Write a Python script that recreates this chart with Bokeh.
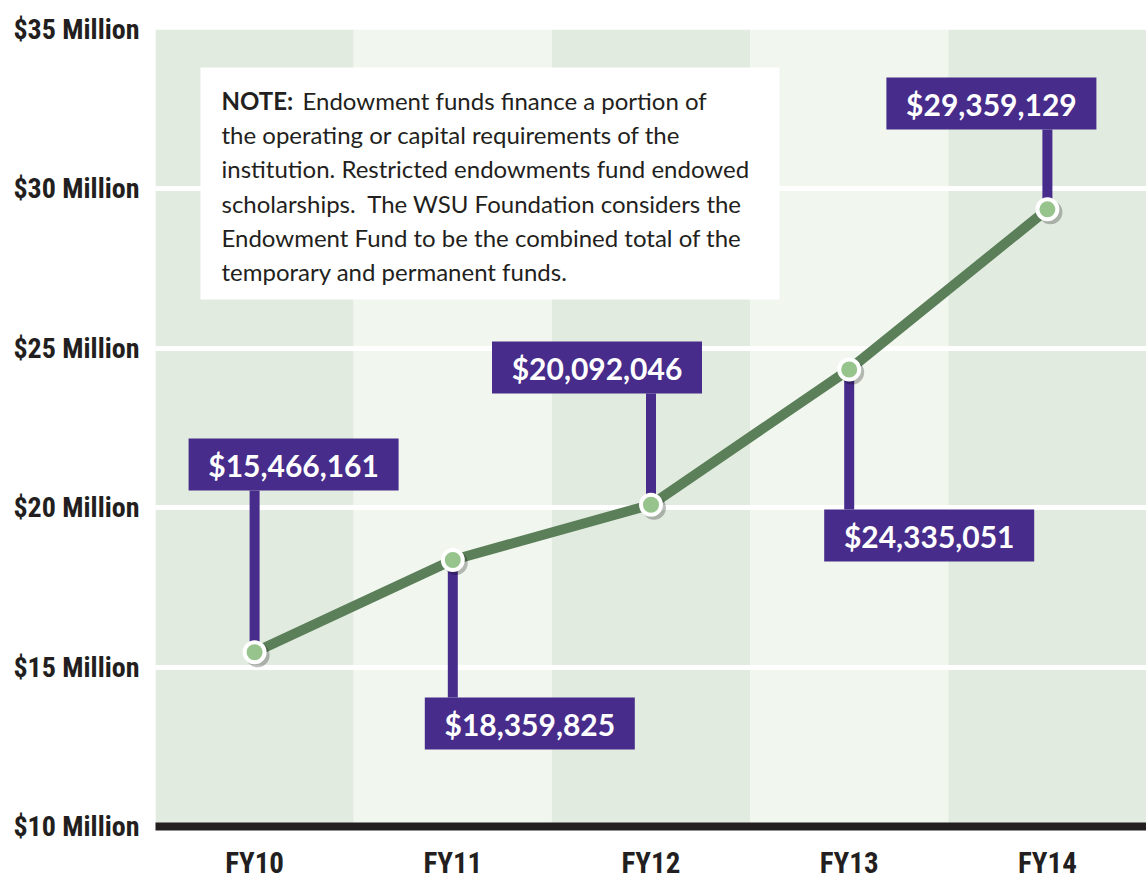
from bokeh.plotting import figure
from bokeh.models import FixedTicker, Range1d
from bokeh.core.properties import value
from bokeh.embed import file_html
from bokeh.resources import INLINE

# ---------------- data ----------------
years = ["FY10", "FY11", "FY12", "FY13", "FY14"]
endowment = [15466161, 18359825, 20092046, 24335051, 29359129]
y_ticks = [10, 15, 20, 25, 30, 35]
y_tick_labels = ["$10 Million", "$15 Million", "$20 Million",
                 "$25 Million", "$30 Million", "$35 Million"]
note_lines = [
    "NOTE:",
    "Endowment funds finance a portion of",
    "the operating or capital requirements of the",
    "institution. Restricted endowments fund endowed",
    "scholarships.\u00a0 The WSU Foundation considers the",
    "Endowment Fund to be the combined total of the",
    "temporary and permanent funds.",
]

# ---------------- layout / style ----------------
FRAME_W, FRAME_H = 991, 797
Y0, Y1 = 10, 35
PX_X = FRAME_W / len(years)
PX_Y = FRAME_H / (Y1 - Y0)
LEFT_PX, BOTTOM_PX = 155, 826   # pixel of frame left / bottom


def xd(px):
    return (px - LEFT_PX) / PX_X


def yd(py):
    return Y0 + (BOTTOM_PX - py) / PX_Y


band_colors = ["#e1ebdf", "#f1f6ef", "#e1ebdf", "#f1f6ef", "#e1ebdf"]
line_color = "#5b7f59"
purple = "#472c8b"
dot_fill = "#96c48c"
ink = "#231f20"
axis_font = "'Liberation Sans Narrow', 'Roboto Condensed', 'Arial Narrow', sans-serif"

box_above = [True, False, True, False, True]
box_dx_px = [-66, -28, -159, -25, -161]   # box left relative to point
box_top_px = [438, 697, 341, 509, 77]
BOX_W, BOX_H = 210, 52

p = figure(frame_width=FRAME_W, frame_height=FRAME_H,
           x_range=Range1d(0, len(years)), y_range=Range1d(Y0, Y1),
           output_backend="svg", toolbar_location=None,
           min_border_left=155, min_border_right=0,
           min_border_top=29, min_border_bottom=53,
           background_fill_color="white", border_fill_color="white",
           outline_line_color=None)

xs = [i + 0.5 for i in range(len(years))]
vals = [v / 1e6 for v in endowment]

# background bands
p.vbar(x=xs, width=1, bottom=Y0, top=Y1, fill_color=band_colors,
       line_color=None, level="image")

# grid
p.xgrid.visible = False
p.ygrid.ticker = FixedTicker(ticks=[15, 20, 25, 30])
p.ygrid.grid_line_color = "white"
p.ygrid.grid_line_width = 5

# y axis
p.yaxis.ticker = FixedTicker(ticks=y_ticks)
p.yaxis.major_label_overrides = dict(zip(y_ticks, y_tick_labels))
p.yaxis.axis_line_color = None
p.yaxis.major_tick_line_color = None
p.yaxis.minor_tick_line_color = None
p.yaxis.major_tick_out = 0
p.yaxis.major_tick_in = 0
p.yaxis.major_label_standoff = 16
p.yaxis.major_label_text_font = axis_font
p.yaxis.major_label_text_font_style = "bold"
p.yaxis.major_label_text_font_size = "28px"
p.yaxis.major_label_text_color = ink

# x axis
p.xaxis.ticker = FixedTicker(ticks=xs)
p.xaxis.major_label_overrides = dict(zip(xs, years))
p.xaxis.axis_line_color = ink
p.xaxis.axis_line_width = 8
p.xaxis.major_tick_line_color = None
p.xaxis.minor_tick_line_color = None
p.xaxis.major_tick_out = 0
p.xaxis.major_tick_in = 0
p.xaxis.major_label_standoff = 19
p.xaxis.major_label_text_font = axis_font
p.xaxis.major_label_text_font_style = "bold"
p.xaxis.major_label_text_font_size = "29px"
p.xaxis.major_label_text_color = ink

# note box
p.quad(left=[xd(200)], right=[xd(779)], top=[yd(67)], bottom=[yd(299)],
       fill_color="white", line_color=None)
line_y = [yd(100 + 34.2 * i) for i in range(6)]
p.text(x=[xd(221)], y=[line_y[0]], text=[note_lines[0]],
       text_font=value("Lato"), text_font_style="bold", text_font_size="24px",
       text_color=ink, text_baseline="middle", text_align="left")
p.text(x=[xd(302)] + [xd(221)] * 5, y=line_y, text=note_lines[1:],
       text_font=value("Lato"), text_font_size="24px",
       text_color=ink, text_baseline="middle", text_align="left")

# connectors and value boxes
box_left = [x + dx / PX_X for x, dx in zip(xs, box_dx_px)]
box_right = [l + BOX_W / PX_X for l in box_left]
box_top = [yd(t) for t in box_top_px]
box_bottom = [yd(t + BOX_H) for t in box_top_px]
conn_end = [b if a else t for a, b, t in zip(box_above, box_bottom, box_top)]
p.segment(x0=xs, y0=vals, x1=xs, y1=conn_end, line_color=purple, line_width=10)
p.quad(left=box_left, right=box_right, top=box_top, bottom=box_bottom,
       fill_color=purple, line_color=None)
p.text(x=[(l + r) / 2 for l, r in zip(box_left, box_right)],
       y=[(t + b) / 2 for t, b in zip(box_top, box_bottom)],
       text=["${:,}".format(v) for v in endowment],
       text_font=value("Lato"), text_font_style="bold", text_font_size="30px",
       text_color="white", text_align="center", text_baseline="middle")

# line + points
p.line(xs, vals, line_color=line_color, line_width=10)
p.scatter([x + 3 / PX_X for x in xs], [v - 3 / PX_Y for v in vals], size=24,
          fill_color="black", fill_alpha=0.25, line_color=None)
p.scatter(xs, vals, size=20, fill_color=dot_fill, line_color="white", line_width=4)

open("out.html", "w").write(file_html(p, INLINE))
